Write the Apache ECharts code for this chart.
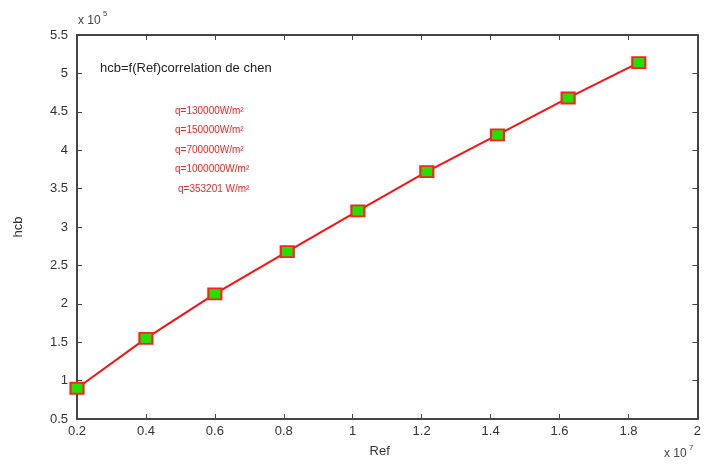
<!DOCTYPE html>
<html>
<head>
<meta charset="utf-8">
<script src="https://cdn.jsdelivr.net/npm/echarts@6/dist/echarts.min.js"></script>
<style>
html,body{margin:0;padding:0;background:#fff;}
#c{width:704px;height:464px;}
</style>
</head>
<body>
<div id="c"></div>
<script>
// Ref values (x 10^7)
const refValues = [0.2, 0.4, 0.6, 0.81, 1.015, 1.215, 1.42, 1.625, 1.83];
// hcb values (x 10^5)
const hcbValues = [0.9, 1.55, 2.13, 2.68, 3.21, 3.72, 4.2, 4.68, 5.14];
const xTicks = [0.2, 0.4, 0.6, 0.8, 1, 1.2, 1.4, 1.6, 1.8, 2];
const yTicks = [0.5, 1, 1.5, 2, 2.5, 3, 3.5, 4, 4.5, 5, 5.5];
const chartTitle = 'hcb=f(Ref)correlation de chen';
const legendLines = ['q=130000W/m\u00b2', 'q=150000W/m\u00b2', 'q=700000W/m\u00b2', 'q=1000000W/m\u00b2', 'q=353201 W/m\u00b2'];
const xName = 'Ref';
const yName = 'hcb';

const chart = echarts.init(document.getElementById('c'), null, {renderer: 'canvas'});
const font = 'Arial, "Liberation Sans", sans-serif';
const axisColor = '#444';
const labelColor = '#333';

const baseX = {
  type: 'value', min: xTicks[0], max: xTicks[xTicks.length - 1], interval: 0.2,
  axisLine: {show: true, onZero: false, lineStyle: {color: axisColor, width: 2}},
  axisTick: {show: true, inside: true, length: 5, lineStyle: {color: axisColor}},
  splitLine: {show: false}
};
const baseY = {
  type: 'value', min: yTicks[0], max: yTicks[yTicks.length - 1], interval: 0.5,
  axisLine: {show: true, onZero: false, lineStyle: {color: axisColor, width: 2}},
  axisTick: {show: true, inside: true, length: 5, lineStyle: {color: axisColor}},
  splitLine: {show: false}
};

const graphics = [
  {type: 'text', left: 100, top: 62, style: {text: chartTitle, fill: '#222', font: '13px ' + font}},
  {type: 'text', left: 78, top: 15, style: {text: 'x 10', fill: '#444', font: '12px ' + font}},
  {type: 'text', left: 103, top: 10, style: {text: '5', fill: '#444', font: '8px ' + font}},
  {type: 'text', left: 664, top: 448, style: {text: 'x 10', fill: '#444', font: '12px ' + font}},
  {type: 'text', left: 689, top: 444, style: {text: '7', fill: '#444', font: '8px ' + font}}
];
legendLines.forEach((t, i) => {
  graphics.push({type: 'text', left: i === 4 ? 178 : 175, top: 106 + i * 19.5,
    style: {text: t, fill: '#ff2020', font: '10px ' + font}});
});

chart.setOption({
  animation: false,
  backgroundColor: '#fff',
  grid: {left: 77, right: 3, top: 35, bottom: 45},
  xAxis: [
    Object.assign({}, baseX, {
      position: 'bottom',
      axisLabel: {color: labelColor, fontSize: 13, fontFamily: font, margin: 6},
      name: xName, nameLocation: 'middle', nameGap: 26,
      nameTextStyle: {color: labelColor, fontSize: 13, fontFamily: font, padding: [0, 0, 0, -15]}
    }),
    Object.assign({}, baseX, {position: 'top', axisLabel: {show: false}})
  ],
  yAxis: [
    Object.assign({}, baseY, {
      position: 'left',
      axisLabel: {color: labelColor, fontSize: 13, fontFamily: font, margin: 9},
      name: yName, nameLocation: 'middle', nameGap: 52, nameRotate: 90,
      nameTextStyle: {color: labelColor, fontSize: 13, fontFamily: font}
    }),
    Object.assign({}, baseY, {position: 'right', axisLabel: {show: false}})
  ],
  graphic: graphics,
  series: [{
    type: 'line',
    xAxisIndex: 0, yAxisIndex: 0,
    data: refValues.map((x, i) => [x, hcbValues[i]]),
    lineStyle: {color: '#ff1010', width: 2},
    symbol: 'rect', symbolSize: [13, 11],
    itemStyle: {color: '#22e000', borderColor: '#ff2020', borderWidth: 2},
    z: 3
  }]
});
</script>
</body>
</html>
